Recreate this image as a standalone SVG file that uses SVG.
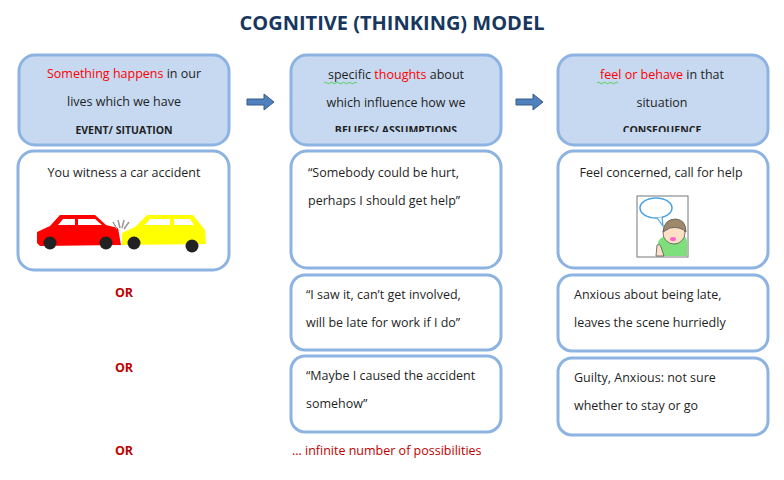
<svg xmlns="http://www.w3.org/2000/svg" width="784" height="480" viewBox="0 0 784 480">
<style>
text{font-family:"Open Sans","Liberation Sans",sans-serif;font-size:12.5px;fill:#1f1f1f}
.hd{fill:#c6d9f1;stroke:#8db3e2;stroke-width:3}
.bd{fill:#fff;stroke:#8db3e2;stroke-width:3}
.r{fill:#ff0000}
.b{font-weight:bold;font-size:10.5px}
.or{fill:#c00000;font-weight:bold;font-size:12.5px}
.c{text-anchor:middle}
</style>
<defs>
<clipPath id="c1"><rect x="0" y="0" width="784" height="132"/></clipPath>
<g id="arr"><path d="M0,-3 H17 V-8 L27,0 L17,8 V3 H0 Z" fill="#4f81bd" stroke="#385d8a" stroke-width="1"/></g>
</defs>
<rect width="784" height="480" fill="#fff"/>
<text x="392" y="30" class="c" style="font-size:20px;font-weight:bold;fill:#17375e">COGNITIVE (THINKING) MODEL</text>
<g id="connectors">
<use href="#arr" x="247" y="102"/>
<use href="#arr" x="516" y="102"/>
</g>
<g id="event">
<rect class="hd" x="19" y="55" width="210" height="90" rx="16"/>
<text x="124" y="78" class="c"><tspan class="r">Something happens</tspan> in our</text>
<text x="124" y="106" class="c">lives which we have</text>
<text x="124" y="134" class="c b">EVENT/ SITUATION</text>
</g>
<g id="event-body">
<rect class="bd" x="18" y="151" width="211" height="119" rx="16"/>
<text x="124" y="177" class="c">You witness a car accident</text>
<g>
<path d="M37,243 L37,232 L50,226 L60,215 L95,215 L106,225 L118,228 L121,245 L40,246 Z" fill="#ff0000"/>
<path d="M63,219 L75,219 L75,225 L58,225 Z M78,219 L95,219 L102,225 L78,225 Z" fill="#fff"/>
<path d="M122,233 L135,227 L147,215 L193,215 L205,230 L206,244 L122,245 Z" fill="#ffff00"/>
<path d="M150,219 L170,219 L170,225 L145,225 Z M174,219 L190,219 L194,225 L174,225 Z" fill="#fff"/>
<path d="M113,222 L117,229 M118,220 L120,228 M124,220 L122,228 M129,222 L124,229" stroke="#999" stroke-width="1.5"/>
<circle cx="50" cy="243" r="6.5" fill="#222"/><circle cx="106" cy="243" r="6.5" fill="#222"/>
<circle cx="134" cy="243" r="6.5" fill="#222"/><circle cx="192" cy="246" r="6.5" fill="#222"/>
</g>
</g>
<g id="beliefs">
<rect class="hd" x="291" y="55" width="210" height="90" rx="16"/>
<text x="396" y="79" class="c"><tspan>specific</tspan> <tspan class="r">thoughts</tspan> about</text>
<path d="M324,83 q1.5,-1.5 3,0 t3,0 t3,0 t3,0 t3,0 t3,0 t3,0 t3,0 t3,0 t3,0 t3,0" stroke="#3c3" fill="none" stroke-width="0.8"/>
<text x="396" y="107" class="c">which influence how we</text>
<text x="396" y="134" class="c b" clip-path="url(#c1)">BELIEFS/ ASSUMPTIONS</text>
</g>
<g id="belief1">
<rect class="bd" x="291" y="151" width="210" height="117" rx="16"/>
<text x="308" y="177">“Somebody could be hurt,</text>
<text x="308" y="205">perhaps I should get help”</text>
</g>
<g id="belief2">
<rect class="bd" x="291" y="275" width="210" height="75" rx="14"/>
<text x="306" y="299">“I saw it, can’t get involved,</text>
<text x="306" y="327">will be late for work if I do”</text>
</g>
<g id="belief3">
<rect class="bd" x="291" y="356" width="210" height="76" rx="14"/>
<text x="306" y="380">“Maybe I caused the accident</text>
<text x="306" y="408">somehow”</text>
</g>
<g id="consequence">
<rect class="hd" x="558" y="55" width="210" height="90" rx="16"/>
<text x="662" y="79" class="c"><tspan class="r">feel or behave</tspan> in that</text>
<path d="M597,83 q1.5,-1.5 3,0 t3,0 t3,0 t3,0 t3,0 t3,0 t3,0" stroke="#3c3" fill="none" stroke-width="0.8"/>
<text x="662" y="107" class="c">situation</text>
<text x="662" y="134" class="c b" clip-path="url(#c1)">CONSEQUENCE</text>
</g>
<g id="cons1">
<rect class="bd" x="558" y="151" width="210" height="117" rx="16"/>
<text x="661" y="177" class="c">Feel concerned, call for help</text>
<rect x="637" y="196" width="51" height="61" fill="#fff" stroke="#777"/>
<ellipse cx="656" cy="208" rx="16" ry="10" fill="#fff" stroke="#4aa3df" stroke-width="1.5"/>
<path d="M657,218 L663,226 L662,217" fill="#fff" stroke="#4aa3df" stroke-width="1.2"/>
<path d="M658,242 Q662,234 675,234 Q687,234 687,242 L687,256 L658,256 Z" fill="#7ee07a"/>
<circle cx="674" cy="233" r="11" fill="#fde0c5" stroke="#555" stroke-width="0.8"/>
<path d="M663,232 Q664,219 676,219 Q686,220 686,232 Q680,226 670,228 Z" fill="#9e8a6a" stroke="#555" stroke-width="0.8"/>
<ellipse cx="673" cy="239" rx="3" ry="2" fill="#f6c"/>
<path d="M656,256 L657,245 Q660,243 661,247 L664,256 Z" fill="#fde0c5" stroke="#555" stroke-width="0.8"/>
</g>
<g id="cons2">
<rect class="bd" x="558" y="275" width="210" height="76" rx="14"/>
<text x="574" y="299">Anxious about being late,</text>
<text x="574" y="327">leaves the scene hurriedly</text>
</g>
<g id="cons3">
<rect class="bd" x="558" y="358" width="210" height="77" rx="14"/>
<text x="574" y="382">Guilty, Anxious: not sure</text>
<text x="574" y="410">whether to stay or go</text>
</g>
<text x="124" y="297" class="c or">OR</text>
<text x="124" y="372" class="c or">OR</text>
<text x="124" y="455" class="c or">OR</text>
<text x="292" y="455" style="fill:#c00000">… infinite number of possibilities</text>
</svg>
